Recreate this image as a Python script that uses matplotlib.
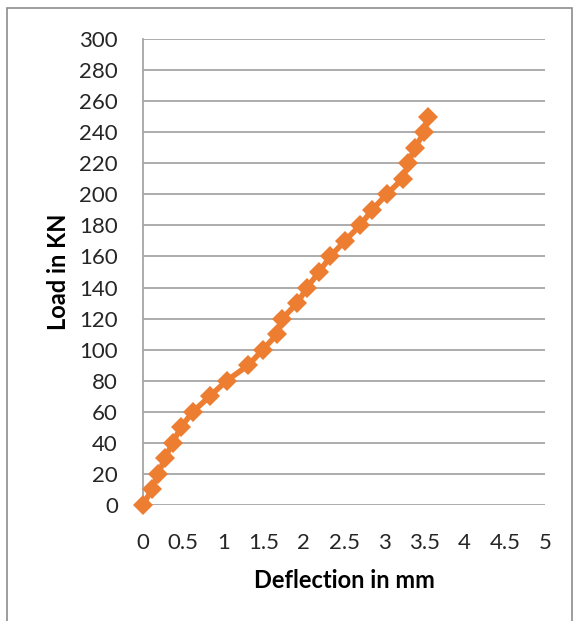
import matplotlib
matplotlib.use("Agg")
import matplotlib.pyplot as plt
from matplotlib.patches import Rectangle

# Load-deflection readings
deflection_mm = [0.0, 0.11, 0.19, 0.27, 0.37, 0.47, 0.62, 0.83, 1.04, 1.31,
                 1.49, 1.67, 1.73, 1.92, 2.04, 2.19, 2.33, 2.51, 2.70, 2.85,
                 3.03, 3.23, 3.30, 3.38, 3.50, 3.54]
load_kn = [0, 10, 20, 30, 40, 50, 60, 70, 80, 90, 100, 110, 120, 130, 140,
           150, 160, 170, 180, 190, 200, 210, 220, 230, 240, 250]

x_ticks = [0, 0.5, 1, 1.5, 2, 2.5, 3, 3.5, 4, 4.5, 5]
x_tick_labels = ["0", "0.5", "1", "1.5", "2", "2.5", "3", "3.5", "4", "4.5", "5"]
y_ticks = list(range(0, 301, 20))

plt.rcParams["font.family"] = ["Lato", "DejaVu Sans"]

fig = plt.figure(figsize=(5.78, 6.21), dpi=100)
fig.patch.set_facecolor("white")

# outer chart frame
fig.add_artist(Rectangle((7 / 578, -0.05), (572 - 7) / 578, 1.05 - 8 / 621,
                         transform=fig.transFigure, fill=False,
                         edgecolor="#8c8c8c", linewidth=1.2))

ax = fig.add_axes([143 / 578, 1 - 505 / 621, (545 - 143) / 578, (505 - 39) / 621])
ax.set_xlim(0, 5)
ax.set_ylim(0, 300)

ax.plot(deflection_mm, load_kn, color="#ED7D31", linewidth=4,
        marker="D", markersize=10, markeredgewidth=0, zorder=3, clip_on=False)

ax.set_xticks(x_ticks)
ax.set_xticklabels(x_tick_labels)
ax.set_yticks(y_ticks)
ax.tick_params(axis="both", length=0, labelsize=16, colors="#262626")
ax.tick_params(axis="x", pad=20)
ax.tick_params(axis="y", pad=18)

ax.yaxis.grid(True, color="#a6a6a6", linewidth=1.3)
ax.set_axisbelow(True)
for side in ["top", "right", "bottom"]:
    ax.spines[side].set_visible(False)
ax.spines["left"].set_color("#a6a6a6")
ax.spines["left"].set_linewidth(1.3)

ax.set_xlabel("Deflection in mm", fontsize=17, fontweight="bold", labelpad=12)
ax.set_ylabel("Load in KN", fontsize=17, fontweight="bold", labelpad=7)

fig.savefig("out.png", dpi=100, facecolor="white")
